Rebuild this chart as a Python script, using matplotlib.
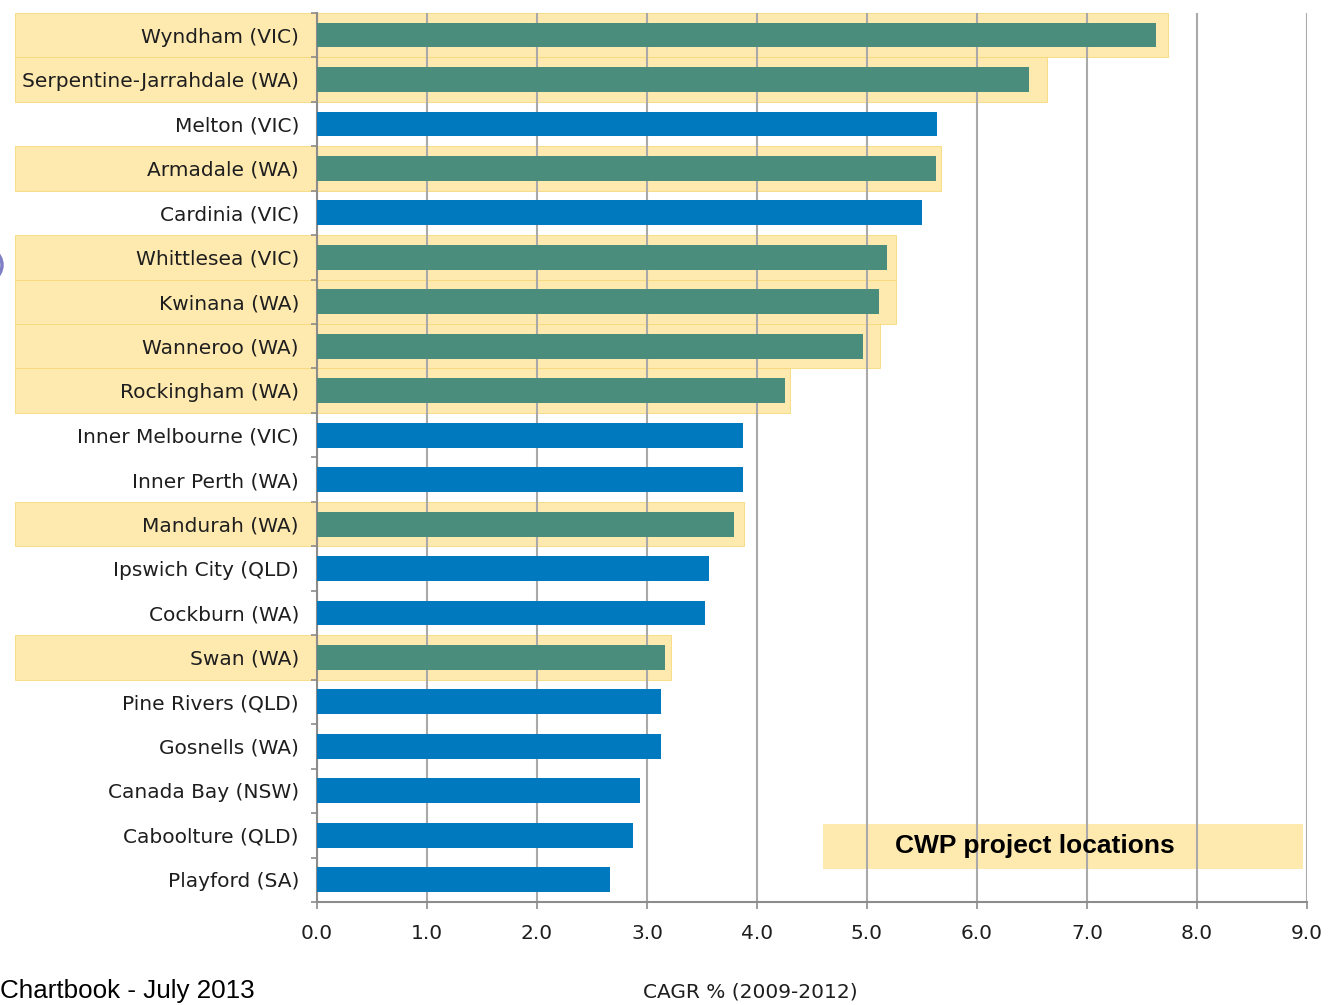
import matplotlib
matplotlib.use("Agg")
import matplotlib.pyplot as plt
from matplotlib.patches import Rectangle, Circle
import numpy as np

# Regions ranked by population growth (CAGR %, 2009-2012)
regions = [
    "Wyndham (VIC)", "Serpentine-Jarrahdale (WA)", "Melton (VIC)", "Armadale (WA)",
    "Cardinia (VIC)", "Whittlesea (VIC)", "Kwinana (WA)", "Wanneroo (WA)",
    "Rockingham (WA)", "Inner Melbourne (VIC)", "Inner Perth (WA)", "Mandurah (WA)",
    "Ipswich City (QLD)", "Cockburn (WA)", "Swan (WA)", "Pine Rivers (QLD)",
    "Gosnells (WA)", "Canada Bay (NSW)", "Caboolture (QLD)", "Playford (SA)",
]
cagr = [7.63, 6.47, 5.64, 5.63, 5.50, 5.18, 5.11, 4.96, 4.25, 3.87,
        3.87, 3.79, 3.56, 3.53, 3.16, 3.13, 3.13, 2.94, 2.87, 2.66]
# 1 = CWP project location
cwp = [1, 1, 0, 1, 0, 1, 1, 1, 1, 0, 0, 1, 0, 0, 1, 0, 0, 0, 0, 0]
# how far each CWP highlight band reaches along the CAGR axis
highlight_to = [7.74, 6.64, 0, 5.67, 0, 5.26, 5.26, 5.12, 4.30, 0,
                0, 3.88, 0, 0, 3.22, 0, 0, 0, 0, 0]
x_ticks = [0, 1, 2, 3, 4, 5, 6, 7, 8, 9]
x_tick_labels = ["0.0", "1.0", "2.0", "3.0", "4.0", "5.0", "6.0", "7.0", "8.0", "9.0"]

BLUE = "#0079BE"
GREEN = "#4B8D7D"
BAND = "#FEE9AF"
BAND_EDGE = "#F7D97A"
AXIS_GREY = "#8C8C8C"
GRID_GREY = "#A9A9A9"
TEXT = "#1E1E1E"

W, H = 1328, 1005
fig = plt.figure(figsize=(W / 100, H / 100), dpi=100)
ax = fig.add_axes([317 / W, 1 - 902 / H, 990 / W, (902 - 12.8) / H])

n = len(regions)
pos = np.arange(n)
bar_colors = [GREEN if c else BLUE for c in cwp]
ax.barh(pos, cagr, height=0.56, color=bar_colors, zorder=3)

ax.set_xlim(0, 9)
ax.set_ylim(n - 0.5, -0.5)

# highlight bands start at the left edge of the label column
x_left = ax.transData.inverted().transform((15, 0))[0]
for i, (flag, end) in enumerate(zip(cwp, highlight_to)):
    if flag:
        ax.add_patch(Rectangle((x_left, i - 0.5), end - x_left, 1.0,
                               facecolor=BAND, edgecolor=BAND_EDGE, linewidth=0.6,
                               zorder=0.1, clip_on=False))

ax.set_xticks(x_ticks)
ax.set_xticklabels(x_tick_labels)
ax.set_yticks(pos)
ax.set_yticklabels(regions)
ax.set_yticks(np.arange(-0.5, n), minor=True)
ax.tick_params(axis="y", which="major", length=0, pad=13, labelsize=14.5, labelcolor=TEXT)
ax.tick_params(axis="y", which="minor", length=4, width=1.2, color=AXIS_GREY)
ax.tick_params(axis="x", length=5, width=1.2, color=AXIS_GREY, pad=11,
               labelsize=14.5, labelcolor=TEXT)

ax.set_axisbelow(True)
ax.xaxis.grid(True, color=GRID_GREY, linewidth=1.5)
for side in ("top", "right"):
    ax.spines[side].set_visible(False)
for side in ("left", "bottom"):
    ax.spines[side].set_color(AXIS_GREY)
    ax.spines[side].set_linewidth(1.5)

ax.set_xlabel("CAGR % (2009-2012)", fontsize=14.5, color=TEXT)
ax.xaxis.set_label_coords(433 / 990, -(982 - 902) / (902 - 12.8))

# legend band
ax.add_patch(Rectangle((823 / W, 1 - 869 / H), 480 / W, 45 / H, transform=fig.transFigure,
                       facecolor=BAND, edgecolor="none", zorder=0.1, clip_on=False))
ax.text(1035 / W, 1 - 846 / H, "CWP project locations", transform=fig.transFigure,
        fontsize=19, fontweight="bold", family="Liberation Sans", color="black",
        ha="center", va="center", zorder=5)

# footer and slide marker at the page edge
fig.text(0.0, 1 - 998 / H, "Chartbook - July 2013", fontsize=18.7,
         family="Liberation Sans", color="black", ha="left", va="baseline")
fig.add_artist(Circle((-27 / W, 1 - 265 / H), 29 / W, transform=fig.transFigure,
                      facecolor="none", edgecolor="#7F7FC6", linewidth=2.5))

fig.savefig("out.png", dpi=100)
